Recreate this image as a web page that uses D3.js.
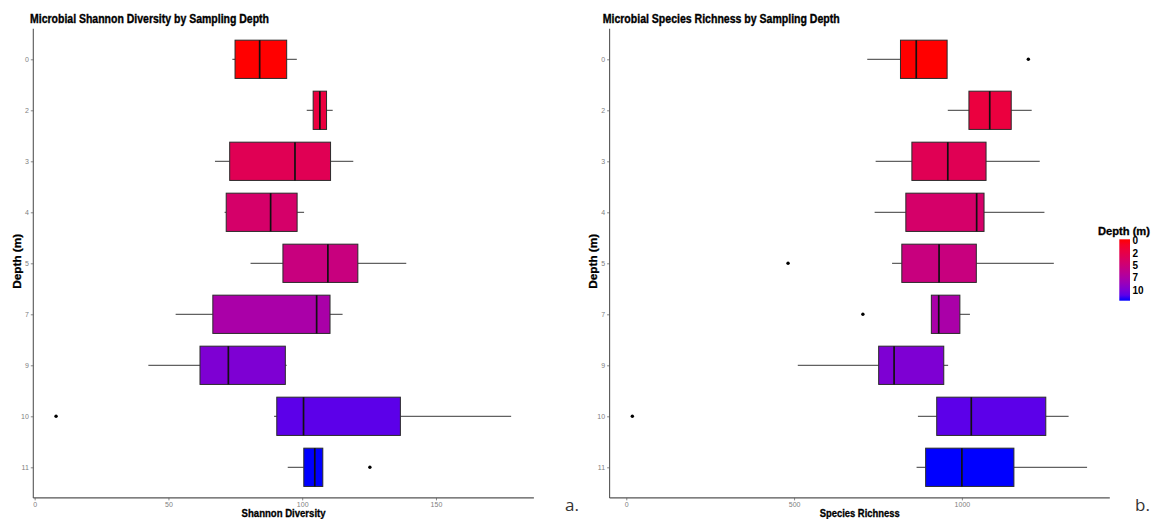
<!DOCTYPE html>
<html>
<head>
<meta charset="utf-8">
<script src="https://cdn.jsdelivr.net/npm/d3@7"></script>
<style>
  body { margin: 0; background: #fff; }
  text { font-family: "Liberation Sans", Arial, sans-serif; }
</style>
</head>
<body>
<div id="container"></div>
<script>
/* CONSTANTS AND GLOBALS */
const width = 1160, height = 519;

const depths = [0, 2, 3, 4, 5, 7, 9, 10, 11];

// Shannon diversity: lower whisker, Q1, median, Q3, upper whisker
const shannonLow  = [73.9, 101.7, 67.4, 71.0, 80.7, 52.7, 42.5, 89.5, 94.6];
const shannonQ1   = [74.9, 104.1, 72.9, 71.6, 92.8, 66.6, 61.8, 90.5, 100.6];
const shannonMed  = [84.1, 106.6, 97.3, 88.2, 109.6, 105.4, 72.4, 100.5, 104.7];
const shannonQ3   = [94.2, 109.1, 110.6, 98.1, 120.8, 110.4, 93.7, 136.7, 107.7];
const shannonHigh = [98.0, 111.4, 119.1, 100.7, 138.9, 115.1, 94.2, 178.1, 107.7];
const shannonOutliers = [[10, 8.0], [11, 125.3]];

// Species richness: lower whisker, Q1, median, Q3, upper whisker
const richLow  = [718, 958, 743, 740, 792, 909, 511, 869, 865];
const richQ1   = [817, 1021, 851, 833, 821, 909, 752, 925, 892];
const richMed  = [864, 1083, 958, 1044, 932, 931, 798, 1028, 1000];
const richQ3   = [956, 1147, 1072, 1066, 1043, 994, 946, 1250, 1155];
const richHigh = [956, 1208, 1232, 1246, 1274, 1024, 959, 1318, 1373];
const richOutliers = [[0, 1198], [5, 482], [7, 705], [10, 18]];

const shannonTicks = [0, 50, 100, 150];
const richTicks = [0, 500, 1000];
const legendBreaks = [0, 2.5, 5, 7.5, 10];
const legendLabels = ["0", "2", "5", "7", "10"];

const color = d3.scaleLinear()
  .domain([0, 11])
  .range(["#ff0000", "#0000ff"])
  .interpolate(d3.interpolateLab);

const svg = d3.select("#container")
  .append("svg")
  .attr("width", width)
  .attr("height", height);

// shared vertical scale (depth 0 at top)
const yScale = d3.scalePoint()
  .domain(depths)
  .range([59.3, 467.3]);
const step = yScale.step();
const boxH = step * 0.75;
const panelTop = yScale(0) - step * 0.6;
const panelBottom = yScale(11) + step * 0.6;

function drawPanel(p) {
  const rows = depths.map((d, i) => ({
    depth: d, low: p.low[i], q1: p.q1[i], med: p.med[i], q3: p.q3[i], high: p.high[i]
  }));
  const all = p.low.concat(p.high, p.outliers.map(o => o[1]));
  const ext = d3.extent(all);
  const pad = (ext[1] - ext[0]) * 0.05;

  const xScale = d3.scaleLinear()
    .domain([ext[0] - pad, ext[1] + pad])
    .range([p.left, p.right]);

  const g = svg.append("g");

  // whiskers
  g.selectAll(".wlo").data(rows).enter().append("line")
    .attr("x1", d => xScale(d.low)).attr("x2", d => xScale(d.q1))
    .attr("y1", d => yScale(d.depth)).attr("y2", d => yScale(d.depth))
    .attr("stroke", "#3a3a3a").attr("stroke-width", 1);
  g.selectAll(".whi").data(rows).enter().append("line")
    .attr("x1", d => xScale(d.q3)).attr("x2", d => xScale(d.high))
    .attr("y1", d => yScale(d.depth)).attr("y2", d => yScale(d.depth))
    .attr("stroke", "#3a3a3a").attr("stroke-width", 1);

  // boxes
  g.selectAll(".box").data(rows).enter().append("rect")
    .attr("x", d => xScale(d.q1))
    .attr("y", d => yScale(d.depth) - boxH / 2)
    .attr("width", d => xScale(d.q3) - xScale(d.q1))
    .attr("height", boxH)
    .attr("fill", d => color(d.depth))
    .attr("stroke", "#2a2a2a")
    .attr("stroke-width", 1);

  // medians
  g.selectAll(".med").data(rows).enter().append("line")
    .attr("x1", d => xScale(d.med)).attr("x2", d => xScale(d.med))
    .attr("y1", d => yScale(d.depth) - boxH / 2)
    .attr("y2", d => yScale(d.depth) + boxH / 2)
    .attr("stroke", "#111").attr("stroke-width", 1.7);

  // outliers
  g.selectAll(".out").data(p.outliers).enter().append("circle")
    .attr("cx", d => xScale(d[1]))
    .attr("cy", d => yScale(d[0]))
    .attr("r", 1.7)
    .attr("fill", "#000");

  // axes
  const yAxis = g.append("g")
    .attr("transform", `translate(${p.left},0)`)
    .call(d3.axisLeft(yScale).tickSize(2.5).tickPadding(2));
  const xAxis = g.append("g")
    .attr("transform", `translate(0,${panelBottom})`)
    .call(d3.axisBottom(xScale).tickValues(p.ticks).tickFormat(d3.format("d"))
      .tickSize(2.5).tickPadding(2));
  [yAxis, xAxis].forEach(a => {
    a.select(".domain").remove();
    a.selectAll(".tick line").attr("stroke", "#888");
    a.selectAll(".tick text")
      .attr("fill", "#808080")
      .style("font-size", "7px")
      .style("font-family", "Liberation Sans, Arial, sans-serif");
  });

  g.append("line")
    .attr("x1", p.left).attr("x2", p.left)
    .attr("y1", panelTop).attr("y2", panelBottom)
    .attr("stroke", "#555").attr("stroke-width", 1.1);
  g.append("line")
    .attr("x1", p.left).attr("x2", p.right)
    .attr("y1", panelBottom).attr("y2", panelBottom)
    .attr("stroke", "#555").attr("stroke-width", 1.1);

  // titles
  g.append("text")
    .attr("x", p.titleX).attr("y", 23)
    .attr("textLength", p.titleLen)
    .attr("lengthAdjust", "spacingAndGlyphs")
    .attr("stroke", "#000").attr("stroke-width", 0.35)
    .style("font-size", "12px").style("font-weight", "bold")
    .text(p.title);

  g.append("text")
    .attr("x", (p.left + p.right) / 2).attr("y", 516.5)
    .attr("text-anchor", "middle")
    .attr("textLength", p.xTitleLen)
    .attr("lengthAdjust", "spacingAndGlyphs")
    .attr("stroke", "#000").attr("stroke-width", 0.3)
    .style("font-size", "10.5px").style("font-weight", "bold")
    .text(p.xTitle);

  g.append("text")
    .attr("transform", `translate(${p.left - 12.5},${(panelTop + panelBottom) / 2 - 2}) rotate(-90)`)
    .attr("text-anchor", "middle")
    .attr("textLength", 55)
    .attr("lengthAdjust", "spacingAndGlyphs")
    .attr("stroke", "#000").attr("stroke-width", 0.3)
    .style("font-size", "11px").style("font-weight", "bold")
    .text("Depth (m)");

  g.append("text")
    .attr("x", p.tagX).attr("y", 511)
    .attr("fill", "#333")
    .style("font-family", "Open Sans, sans-serif")
    .style("font-size", "17px")
    .text(p.tag);
}

drawPanel({
  left: 33.3, right: 533.9,
  low: shannonLow, q1: shannonQ1, med: shannonMed, q3: shannonQ3, high: shannonHigh,
  outliers: shannonOutliers, ticks: shannonTicks,
  title: "Microbial Shannon Diversity by Sampling Depth", titleX: 30, titleLen: 239,
  xTitle: "Shannon Diversity", xTitleLen: 84,
  tag: "a.", tagX: 565
});

drawPanel({
  left: 609.6, right: 1109.8,
  low: richLow, q1: richQ1, med: richMed, q3: richQ3, high: richHigh,
  outliers: richOutliers, ticks: richTicks,
  title: "Microbial Species Richness by Sampling Depth", titleX: 602.7, titleLen: 237,
  xTitle: "Species Richness", xTitleLen: 80,
  tag: "b.", tagX: 1135
});

/* LEGEND */
const grad = svg.append("defs").append("linearGradient")
  .attr("id", "depthGrad")
  .attr("x1", 0).attr("x2", 0).attr("y1", 0).attr("y2", 1);
d3.range(0, 11.01, 1).forEach(v => {
  grad.append("stop")
    .attr("offset", v / 11)
    .attr("stop-color", color(v));
});

const legY = d3.scaleLinear().domain([0, 11]).range([240.7, 295.3]);

svg.append("text")
  .attr("x", 1098).attr("y", 235)
  .attr("textLength", 52)
  .attr("lengthAdjust", "spacingAndGlyphs")
  .attr("stroke", "#000").attr("stroke-width", 0.3)
  .style("font-size", "10.5px").style("font-weight", "bold")
  .text("Depth (m)");

svg.append("rect")
  .attr("x", 1119.3).attr("y", 239.3)
  .attr("width", 10.7).attr("height", 61.4)
  .attr("fill", "url(#depthGrad)");

svg.selectAll(".legLabel")
  .data(legendBreaks)
  .enter()
  .append("text")
  .attr("x", 1132.5)
  .attr("y", d => legY(d))
  .attr("dy", "0.35em")
  .style("font-size", "10px").style("font-weight", "bold")
  .text((d, i) => legendLabels[i]);
</script>
</body>
</html>
